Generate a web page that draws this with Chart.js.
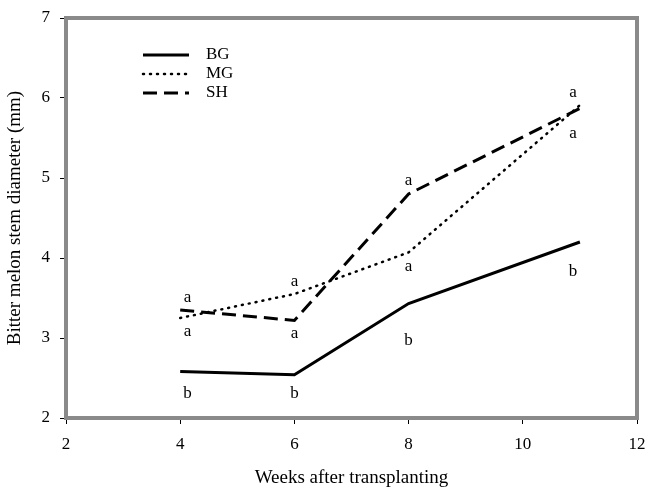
<!DOCTYPE html>
<html>
<head>
<meta charset="utf-8">
<script src="https://cdn.jsdelivr.net/npm/chart.js@4.4.0/dist/chart.umd.min.js"></script>
<style>
  html, body { margin: 0; padding: 0; background: #fff; }
  #wrap { width: 646px; height: 489px; }
</style>
</head>
<body>
<div id="wrap"><canvas id="stemChart" width="646" height="489"></canvas></div>
<script>
// --- data ---
const weeks = [4, 6, 8, 11];
const bgValues = [2.58, 2.54, 3.43, 4.2];
const mgValues = [3.25, 3.55, 4.07, 5.91];
const shValues = [3.35, 3.22, 4.8, 5.87];
const xTicks = [2, 4, 6, 8, 10, 12];
const yTicks = [2, 3, 4, 5, 6, 7];

// significance letters (week, value, letter)
const letterX = [4.13, 4.13, 4.13, 6, 6, 6, 8, 8, 8, 10.88, 10.88, 10.88];
const letterY = [3.51, 3.08, 2.31, 3.71, 3.06, 2.31, 4.97, 3.89, 2.97, 6.07, 5.56, 3.83];
const letterText = ['a', 'a', 'b', 'a', 'a', 'b', 'a', 'a', 'b', 'a', 'a', 'b'];

const serif = '"Liberation Serif", "DejaVu Serif", serif';

function toPoints(ys) {
  return weeks.map((w, i) => ({ x: w, y: ys[i] }));
}

// --- frame, letters and legend ---
const extras = {
  id: 'extras',
  afterDatasetsDraw(chart) {
    const { ctx, chartArea: a, scales } = chart;
    ctx.save();
    // letters
    ctx.fillStyle = '#000';
    ctx.font = '17px ' + serif;
    ctx.textAlign = 'center';
    ctx.textBaseline = 'middle';
    letterText.forEach((t, i) => {
      ctx.fillText(t, scales.x.getPixelForValue(letterX[i]), scales.y.getPixelForValue(letterY[i]));
    });

    // legend
    const lx = 143, ly = 55, gap = 19;
    chart.data.datasets.forEach((ds, i) => {
      const y = ly + i * gap;
      ctx.beginPath();
      ctx.strokeStyle = ds.borderColor;
      ctx.lineWidth = ds.borderWidth;
      ctx.lineCap = ds.borderCapStyle || 'butt';
      ctx.setLineDash(ds.borderDash || []);
      ctx.moveTo(lx, y);
      ctx.lineTo(lx + 46, y);
      ctx.stroke();
      ctx.setLineDash([]);
      ctx.textAlign = 'left';
      ctx.font = '17px ' + serif;
      ctx.fillText(ds.label, lx + 63, y);
    });

    // gray frame
    ctx.strokeStyle = '#8a8a8a';
    ctx.lineWidth = 4;
    ctx.strokeRect(a.left, a.top, a.right - a.left, a.bottom - a.top);
    ctx.restore();
  }
};

new Chart(document.getElementById('stemChart'), {
  type: 'scatter',
  data: {
    datasets: [
      { label: 'BG', data: toPoints(bgValues), showLine: true, borderColor: '#000', borderWidth: 3, pointRadius: 0 },
      { label: 'MG', data: toPoints(mgValues), showLine: true, borderColor: '#000', borderWidth: 2.5, borderDash: [1, 6], borderCapStyle: 'round', pointRadius: 0 },
      { label: 'SH', data: toPoints(shValues), showLine: true, borderColor: '#000', borderWidth: 3, borderDash: [14, 7], pointRadius: 0 }
    ]
  },
  options: {
    responsive: false,
    animation: false,
    layout: { padding: { top: 18, right: 9, left: 0, bottom: 0 } },
    plugins: { legend: { display: false }, tooltip: { enabled: false } },
    scales: {
      x: {
        type: 'linear',
        min: 2, max: 12,
        afterBuildTicks: s => { s.ticks = xTicks.map(v => ({ value: v })); },
        afterFit: s => { s.height = 71; s.paddingLeft = 0; s.paddingRight = 0; },
        grid: { drawOnChartArea: false, drawTicks: true, tickLength: 6, color: '#000', lineWidth: 1 },
        border: { display: false },
        ticks: { color: '#000', font: { family: serif, size: 17 }, padding: 10 },
        title: { display: true, text: 'Weeks after transplanting', color: '#000', font: { family: serif, size: 19 }, padding: { top: 4, bottom: 0 } }
      },
      y: {
        min: 2, max: 7,
        afterBuildTicks: s => { s.ticks = yTicks.map(v => ({ value: v })); },
        afterFit: s => { s.width = 66; s.paddingTop = 0; s.paddingBottom = 0; },
        grid: { drawOnChartArea: false, drawTicks: true, tickLength: 6, color: '#000', lineWidth: 1 },
        border: { display: false },
        ticks: { color: '#000', font: { family: serif, size: 17 }, padding: 10 },
        title: { display: true, text: 'Bitter melon stem diameter (mm)', color: '#000', font: { family: serif, size: 19 }, padding: { top: 4, bottom: 7 } }
      }
    }
  },
  plugins: [extras]
});
</script>
</body>
</html>
